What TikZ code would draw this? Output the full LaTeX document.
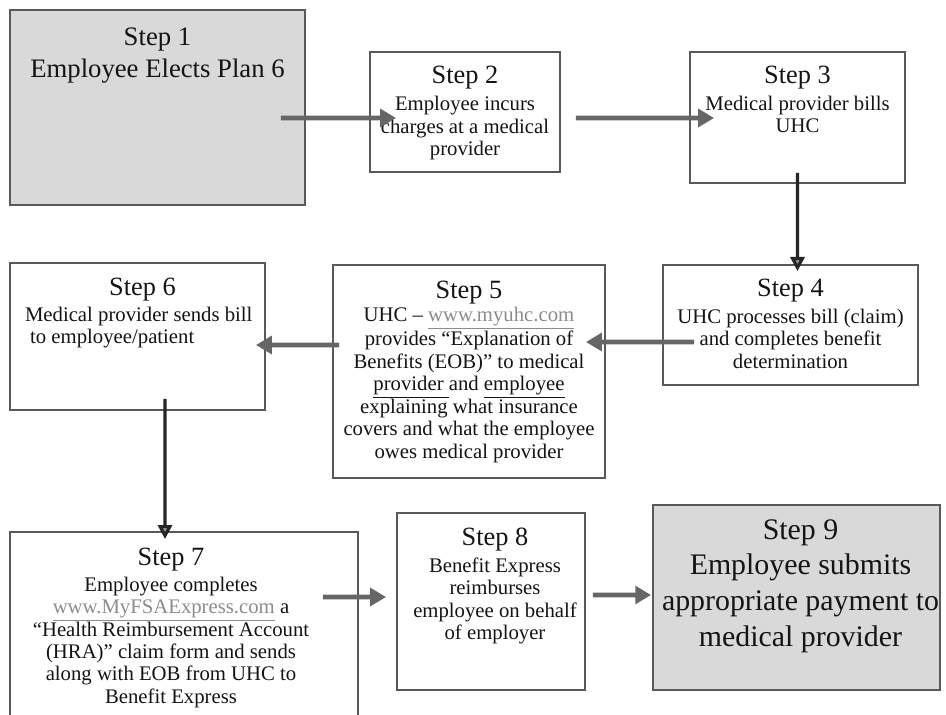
\documentclass[tikz,border=0pt]{standalone}
\usepackage{fontspec}
\setmainfont{Liberation Serif}
\usetikzlibrary{arrows.meta,positioning}

\newcommand{\steptitle}{\fontsize{15}{18}\selectfont}
\newcommand{\weblink}[1]{\textcolor{black!45}{\underline{#1}}}

\begin{document}
\begin{tikzpicture}[
  x=0.02cm, y=-0.02cm,
  box/.style={draw=black!65, line width=1.1pt, inner sep=0pt},
  shaded/.style={box, fill=black!15},
  steptext/.style={anchor=north, align=center, text=black!92, inner sep=0pt,
    font=\fontsize{11.8}{12.8}\selectfont},
  arrow/.style={-{Triangle[length=9pt,width=10pt]}, line width=2.6pt, draw=black!60},
  downarrow/.style={-{Triangle[length=8pt,width=8pt,fill=black!40]}, line width=1.8pt, draw=black!85}
]
\fill[white] (0,0) rectangle (946,714);
\useasboundingbox (0,0) rectangle (946,714);

% boxes
\node[shaded, minimum width=5.9cm,  minimum height=3.9cm]  (s1) at (157.5,107.5) {};
\node[box,    minimum width=3.8cm,  minimum height=2.4cm]  (s2) at (465,112) {};
\node[box,    minimum width=4.3cm,  minimum height=2.62cm] (s3) at (797.5,117.5) {};
\node[box,    minimum width=5.1cm,  minimum height=2.4cm]  (s4) at (790.5,325) {};
\node[box,    minimum width=5.44cm, minimum height=4.26cm] (s5) at (469,371.5) {};
\node[box,    minimum width=5.1cm,  minimum height=2.94cm] (s6) at (137.5,336.5) {};
\node[box,    minimum width=6.96cm, minimum height=3.76cm] (s7) at (184,626) {};
\node[box,    minimum width=3.76cm, minimum height=3.54cm] (s8) at (491,601.5) {};
\node[shaded, minimum width=5.74cm, minimum height=3.7cm]  (s9) at (796.5,597.5) {};

% texts
\node[steptext, font=\fontsize{15.2}{18}\selectfont] (t1) at ([yshift=-10.5pt]s1.north)
  {Step 1\\Employee Elects Plan 6};
\node[steptext] (t2) at ([yshift=-8.5pt]s2.north)
  {{\steptitle Step 2}\\[2.5pt]Employee incurs\\charges at a medical\\provider};
\node[steptext] (t3) at ([yshift=-8.2pt]s3.north)
  {{\steptitle Step 3}\\[2.5pt]Medical provider bills\\UHC};
\node[steptext] (t4) at ([yshift=-8.2pt]s4.north)
  {{\steptitle Step 4}\\[2.5pt]UHC processes bill (claim)\\and completes benefit\\determination};
\node[steptext] (t5) at ([yshift=-9.2pt]s5.north)
  {{\steptitle Step 5}\\[0.5pt]UHC -- \weblink{www.myuhc.com}\\provides “Explanation of\\Benefits (EOB)” to medical\\\underline{provider\ }and \underline{employee}\\explaining what insurance\\covers and what the employee\\owes medical provider};
\node[steptext, align=left] (t6) at ([xshift=0.1cm,yshift=-8.8pt]s6.north)
  {\makebox[4.7cm]{\steptitle Step 6}\\[2pt]Medical provider sends bill\\\ to employee/patient};
\node[steptext] (t7) at ([xshift=-0.26cm,yshift=-9.2pt]s7.north)
  {{\steptitle Step 7}\\[2pt]Employee completes\\\weblink{www.MyFSAExpress.com} a\\“Health Reimbursement Account\\(HRA)” claim form and sends\\along with EOB from UHC to\\Benefit Express};
\node[steptext] (t8) at ([xshift=0.08cm,yshift=-8.8pt]s8.north)
  {{\steptitle Step 8}\\[2.5pt]Benefit Express\\reimburses\\employee on behalf\\of employer};
\node[steptext, font=\fontsize{17}{20.4}\selectfont] (t9) at ([xshift=0.08cm,yshift=-8.5pt]s9.north)
  {Step 9\\Employee submits\\appropriate payment to\\medical provider};

% connectors
\draw[arrow] ([xshift=-0.5cm,yshift=-0.21cm]s1.east) -- ([xshift=0.54cm,yshift=-0.12cm]s2.west);
\draw[arrow] ([xshift=0.3cm,yshift=-0.12cm]s2.east) -- ([xshift=0.5cm,yshift=-0.01cm]s3.west);
\draw[downarrow] ([yshift=0.22cm]s3.south) -- ([xshift=0.14cm,yshift=-0.14cm]s4.north);
\draw[arrow] ([xshift=0.64cm,yshift=-0.34cm]s4.west) -- ([xshift=-0.4cm,yshift=0.59cm]s5.east);
\draw[arrow] ([xshift=0.14cm,yshift=0.53cm]s5.west) -- ([xshift=-0.2cm,yshift=-0.17cm]s6.east);
\draw[downarrow] ([xshift=0.55cm,yshift=0.24cm]s6.south) -- ([xshift=-0.38cm,yshift=-0.16cm]s7.north);
\draw[arrow] ([xshift=-0.72cm,yshift=0.58cm]s7.east) -- ([xshift=-0.2cm,yshift=0.09cm]s8.west);
\draw[arrow] ([xshift=0.14cm,yshift=0.13cm]s8.east) -- ([xshift=-0.02cm,yshift=0.05cm]s9.west);
\end{tikzpicture}
\end{document}
